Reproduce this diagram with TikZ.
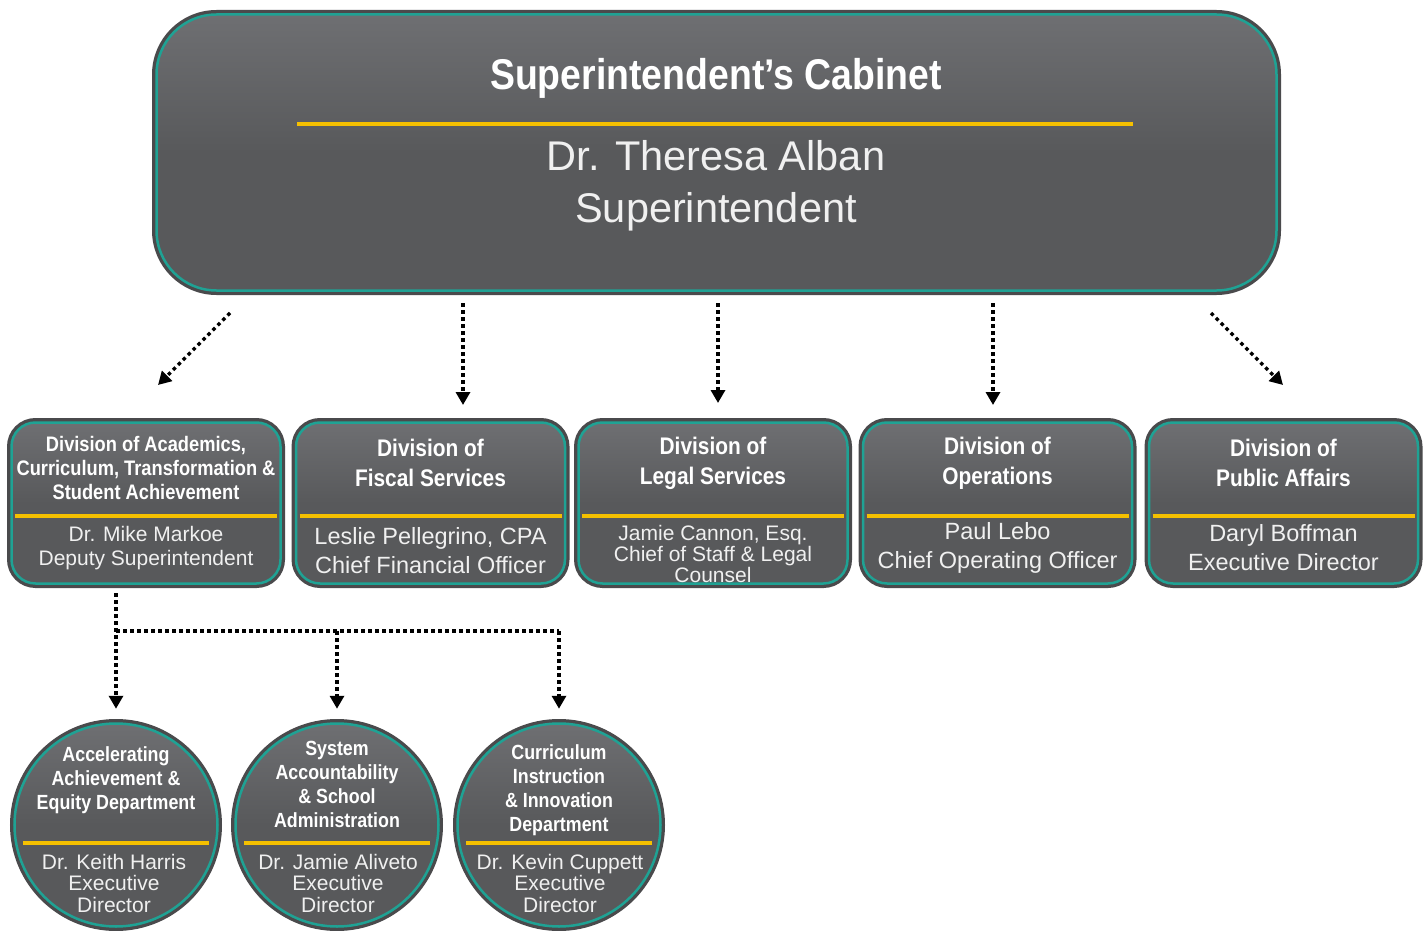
\documentclass[tikz,border=0pt]{standalone}
\usepackage{fontspec}
\setmainfont{Liberation Sans}
\newfontfamily\headfont[FakeStretch=0.87]{Liberation Sans}
\newfontfamily\namefont{Liberation Sans}
\usetikzlibrary{positioning,calc,arrows.meta}

\definecolor{panel}{HTML}{58595B}
\definecolor{paneltop}{HTML}{6E6F72}
\definecolor{frame}{HTML}{4A4A4C}
\definecolor{tealline}{HTML}{1FA294}
\definecolor{goldline}{HTML}{F5C000}
\definecolor{nametext}{HTML}{F0F0F0}

\tikzset{
  card/.style={rectangle, rounded corners=#1, draw=tealline, line width=2.5pt,
    top color=paneltop, bottom color=panel, middle color=panel,
    preaction={draw=frame, line width=9pt}, inner sep=0pt},
  disc/.style={circle, draw=tealline, line width=2.5pt,
    top color=paneltop, bottom color=panel, middle color=panel,
    preaction={draw=frame, line width=9pt}, inner sep=0pt, minimum size=203pt},
  goldrule/.style={draw=goldline, line width=4.5pt},
  headtext/.style 2 args={text=white, align=center, font=\headfont\bfseries\fontsize{#1}{#2}\selectfont},
  nametext/.style 2 args={text=nametext, align=center, font=\namefont\fontsize{#1}{#2}\selectfont},
  flow/.style={line width=3.5pt, dash pattern=on 3.5pt off 3.5pt,
    -{Triangle[length=13pt,width=14pt]}}
}

\begin{document}
\begin{tikzpicture}[x=1pt, y=-1pt]
    \useasboundingbox (0,0) rectangle (1428,931);

    % Cabinet
    \node[card=60pt, minimum width=1120pt, minimum height=276pt] (cab) at (716.5,152.5) {};
    \node[headtext={43}{46}] (cabtitle) at (716,78) {Superintendent’s Cabinet};
    \draw[goldrule] (297,124) -- (1133,124);
    \node[nametext={41.5}{52}] (cabname) at (716,186) {Dr. Theresa Alban\\Superintendent};

    % Divisions
    \foreach \n/\cx in {1/146, 2/430.5, 3/713, 4/997.5, 5/1283.5} {
        \node[card=24pt, minimum width=269pt, minimum height=161pt] (div\n) at (\cx,503) {};
        \draw[goldrule] (\cx-131,516) -- (\cx+131,516);
    }
    \node[headtext={21}{24}] (t1) at (146,468) {Division of Academics,\\Curriculum, Transformation \&\\Student Achievement};
    \node[nametext={21}{24}] (p1) at (146,548) {Dr. Mike Markoe\\Deputy Superintendent};
    \node[headtext={24}{30}] (t2) at (430.5,463) {Division of\\Fiscal Services};
    \node[nametext={23.5}{29}] (p2) at (430.5,551) {Leslie Pellegrino, CPA\\Chief Financial Officer};
    \node[headtext={24}{30}] (t3) at (713,463) {Division of\\Legal Services};
    \node[nametext={21}{21}] (p3) at (713,554) {Jamie Cannon, Esq.\\Chief of Staff \& Legal\\Counsel};
    \node[headtext={24}{30}] (t4) at (997.5,463) {Division of\\Operations};
    \node[nametext={23.5}{29}] (p4) at (997.5,548) {Paul Lebo\\Chief Operating Officer};
    \node[headtext={24}{30}] (t5) at (1283.5,463) {Division of\\Public Affairs};
    \node[nametext={23.5}{29}] (p5) at (1283.5,548) {Daryl Boffman\\Executive Director};

    % Feeds from the cabinet
    \foreach \n/\sx/\sy/\ex/\ey in {1/230/313/158/385, 2/463/303/463/405, 3/718/303/718/403, 4/993/303/993/405, 5/1211/313/1283/385}
        \draw[flow] (\sx,\sy) coordinate (from\n) -- (\ex,\ey) coordinate (to\n);

    % Departments
    \node[disc] (acc) at (116,825) {};
    \node[disc] (sas) at (337,825) {};
    \node[disc] (cii) at (559,825) {};
    \foreach \cx in {116, 337, 559}
        \draw[goldrule] (\cx-93,843) -- (\cx+93,843);
    \node[headtext={20.5}{24}] (acct) at (116,780) {Accelerating\\Achievement \&\\Equity Department};
    \node[headtext={20.5}{24}] (sast) at (337,784) {System\\Accountability\\\& School\\Administration};
    \node[headtext={20.5}{24}] (ciit) at (559,790) {Curriculum\\Instruction\\\& Innovation\\Department};
    \node[nametext={21}{21.5}] (accp) at (114,883) {Dr. Keith Harris\\Executive\\Director};
    \node[nametext={21}{21.5}] (sasp) at (338,883) {Dr. Jamie Aliveto\\Executive\\Director};
    \node[nametext={21}{21.5}] (ciip) at (560,883) {Dr. Kevin Cuppett\\Executive\\Director};

    % Branches under academics
    \coordinate (split) at (116,631);
    \draw[flow, shorten <=8.5pt, shorten >=13.5pt] (div1.south -| acc.north) -- (acc.north);
    \draw[line width=3.5pt, dash pattern=on 3.5pt off 3.5pt] (split) -- (split -| cii.north);
    \draw[flow, shorten >=13.5pt] (split -| sas.north) -- (sas.north);
    \draw[flow, shorten >=13.5pt] (split -| cii.north) -- (cii.north);
\end{tikzpicture}
\end{document}
